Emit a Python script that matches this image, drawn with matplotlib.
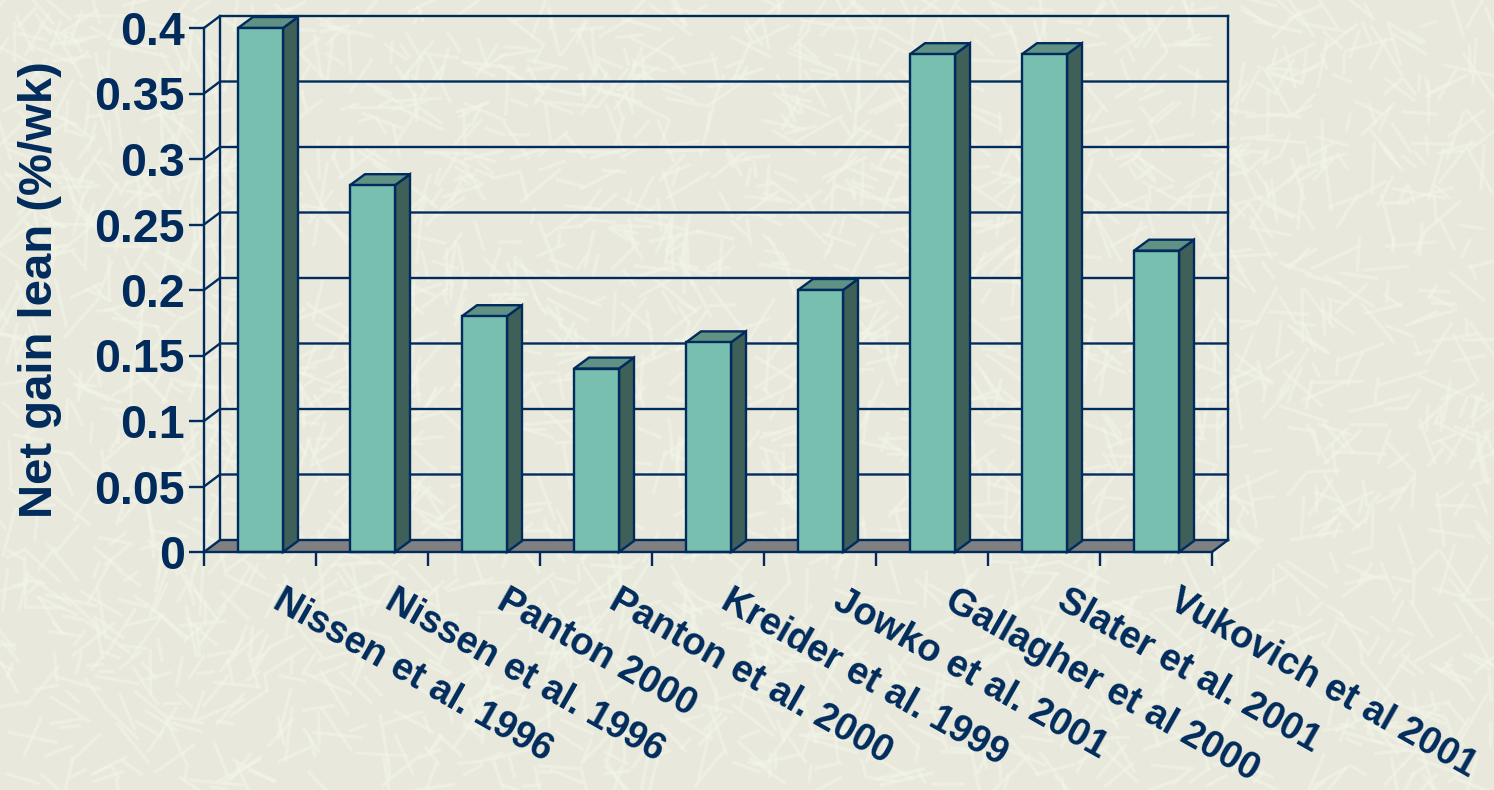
import numpy as np
import matplotlib
matplotlib.use('Agg')
import matplotlib.pyplot as plt
from matplotlib.collections import LineCollection
from matplotlib.patches import Polygon

studies = ['Nissen et al. 1996', 'Nissen et al. 1996', 'Panton 2000', 'Panton et al. 2000',
           'Kreider et al. 1999', 'Jowko et al. 2001', 'Gallagher et al 2000',
           'Slater et al. 2001', 'Vukovich et al 2001']
net_gain = [0.4, 0.28, 0.18, 0.14, 0.16, 0.2, 0.38, 0.38, 0.23]
y_ticks = [0, 0.05, 0.1, 0.15, 0.2, 0.25, 0.3, 0.35, 0.4]

NAVY = '#002B5C'
FRONT = '#78BFB0'
SIDE = '#3F6059'
TOP = '#5F9184'
FLOOR = '#808080'
PAPER = '#E8E9DC'

plt.rcParams['font.family'] = ['Liberation Sans', 'DejaVu Sans']
plt.rcParams['font.weight'] = 'bold'

W, H = 1494, 790
fig = plt.figure(figsize=(W / 100, H / 100), dpi=100, facecolor=PAPER)

# woven paper texture behind the chart
rng = np.random.RandomState(7)
n = 2600
cx, cy = rng.uniform(0, 1, n), rng.uniform(0, 1, n)
ang = rng.uniform(0, np.pi, n)
ln = rng.uniform(8, 28, n)
segs = np.stack([np.c_[cx - ln * np.cos(ang) / W, cy - ln * np.sin(ang) / H],
                 np.c_[cx + ln * np.cos(ang) / W, cy + ln * np.sin(ang) / H]], axis=1)
fig.add_artist(LineCollection(segs, colors='#F4F5E9', linewidths=2.4, alpha=0.55,
                              transform=fig.transFigure, zorder=0))

ax = fig.add_axes([204 / W, 1 - 552 / H, 1008 / W, 524 / H])
ax.patch.set_alpha(0)
ax.set_xlim(0, 9)
ax.set_ylim(0, 0.4)
for s in ax.spines.values():
    s.set_visible(False)

# depth of the box and of the bars, in data units
dx, dy = 16 / 112, 12 / 1310
bar_dx, bar_dy = 15 / 112, 11 / 1310
lw = 1.7


def face(pts, color, z):
    ax.add_patch(Polygon(pts, closed=True, facecolor=color, edgecolor=NAVY, linewidth=lw,
                         joinstyle='miter', clip_on=False, zorder=z))


# floor and walls
ax.add_patch(Polygon([(0, 0), (9, 0), (9 + dx, dy), (dx, dy)], closed=True, facecolor=FLOOR,
                     edgecolor='none', clip_on=False, zorder=1))
for v in y_ticks:
    ax.plot([0, dx, 9 + dx], [v, v + dy, v + dy], color=NAVY, lw=lw, clip_on=False, zorder=2,
            solid_joinstyle='miter')
ax.plot([dx, dx], [dy, 0.4 + dy], color=NAVY, lw=lw, clip_on=False, zorder=2)
ax.plot([9 + dx, 9 + dx], [dy, 0.4 + dy], color=NAVY, lw=lw, clip_on=False, zorder=2)
ax.plot([9, 9 + dx], [0, dy], color=NAVY, lw=lw, clip_on=False, zorder=2)
ax.plot([0, 0], [0, 0.4], color=NAVY, lw=lw, clip_on=False, zorder=6)
ax.plot([0, 9], [0, 0], color=NAVY, lw=lw, clip_on=False, zorder=6)

# 3d bars
bar_w = 45 / 112
for i, v in enumerate(net_gain):
    x0 = i + 34 / 112
    x1 = x0 + bar_w
    face([(x1, 0), (x1 + bar_dx, bar_dy), (x1 + bar_dx, v + bar_dy), (x1, v)], SIDE, 3)
    face([(x0, v), (x1, v), (x1 + bar_dx, v + bar_dy), (x0 + bar_dx, v + bar_dy)], TOP, 3)
    face([(x0, 0), (x1, 0), (x1, v), (x0, v)], FRONT, 4)

ax.set_yticks(y_ticks)
ax.set_yticklabels(['%g' % v for v in y_ticks])
ax.tick_params(axis='y', length=11, width=lw, color=NAVY, labelcolor=NAVY, labelsize=33.5, pad=3)
ax.set_ylabel('Net gain lean (%/wk)', fontsize=34, fontweight='bold', color=NAVY, labelpad=23)

ax.set_xticks(range(10))
ax.set_xticklabels([])
ax.tick_params(axis='x', which='major', length=10, width=lw, color=NAVY)

# study names sit between the ticks
ax.set_xticks(np.arange(9) + 0.72, minor=True)
ax.set_xticklabels(studies, minor=True, rotation=-29.5, ha='left', va='top', rotation_mode='anchor',
                   fontsize=27.2, color=NAVY)
ax.tick_params(axis='x', which='minor', length=0, pad=22)

fig.savefig('out.png', dpi=100, facecolor=PAPER)
